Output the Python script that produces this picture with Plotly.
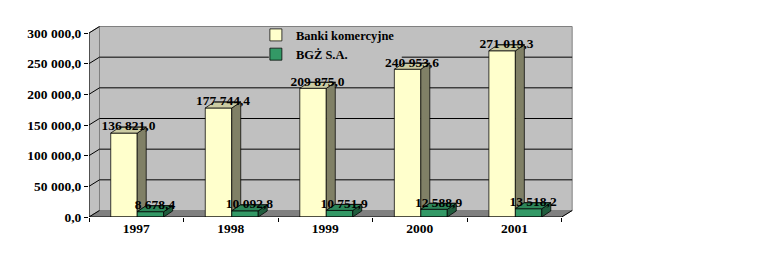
import plotly.graph_objects as go

years = ["1997", "1998", "1999", "2000", "2001"]
banki = [136821.0, 177744.4, 209875.0, 240953.6, 271019.3]
bgz = [8678.4, 10092.8, 10751.9, 12588.9, 13518.2]
yticks = [0, 50000, 100000, 150000, 200000, 250000, 300000]

# geometry (pixel-derived scale factors)
PX_X = 94.6            # px per category
PX_Y = 184 / 300000    # px per value unit
DX = 10.5 / PX_X       # wall depth (x, category units)
DY = 6.5 / PX_Y        # wall depth (y, value units)
BDX = 9 / PX_X         # bar depth
BDY = 6 / PX_Y
W = 0.28               # bar width
OFF = -0.27            # yellow bar offset from category centre

pos = list(range(len(years)))
XMIN, XMAX = -0.5, len(years) - 0.5 + DX + 0.03
YMAX = 191 / PX_Y
PLOT_W = (XMAX - XMIN) * PX_X

Y_FRONT = "#FFFFCC"; Y_TOP = "#CCCCA3"; Y_SIDE = "#808066"
G_FRONT = "#339966"; G_TOP = "#2D8659"; G_SIDE = "#1F5C3D"
WALL = "#C0C0C0"; FLOOR = "#808080"

font = dict(family="Liberation Serif", size=13.5, color="black", weight="bold")
lfont = dict(family="Liberation Serif", size=12.5, color="black", weight="bold")

fig = go.Figure()

# front faces as bars
fig.add_trace(go.Bar(x=pos, y=banki, width=W, offset=OFF, name="Banki komercyjne",
                     marker=dict(color=Y_FRONT, line=dict(color="black", width=0.75)),
                     hoverinfo="skip"))
fig.add_trace(go.Bar(x=pos, y=bgz, width=W, offset=OFF + W, name="BGŻ S.A.",
                     marker=dict(color=G_FRONT, line=dict(color="black", width=0.75)),
                     hoverinfo="skip"))

def poly_trace(xs, ys, color):
    return go.Scatter(x=xs, y=ys, mode="lines", fill="toself", fillcolor=color,
                      line=dict(color="black", width=0.75), showlegend=False,
                      hoverinfo="skip")

# yellow sides (clipped by green bar in front), yellow tops
ysx, ysy, ytx, yty = [], [], [], []
gsx, gsy, gtx, gty = [], [], [], []
for p, v, g in zip(pos, banki, bgz):
    xl = p + OFF
    xr = xl + W
    ysx += [xr, xr, xr + BDX, xr + BDX, xr, None]
    ysy += [g, v, v + BDY, g + BDY, g, None]
    ytx += [xl, xr, xr + BDX, xl + BDX, xl, None]
    yty += [v, v, v + BDY, v + BDY, v, None]
    gl = xr
    gr = xr + W
    gsx += [gr, gr, gr + BDX, gr + BDX, gr, None]
    gsy += [0, g, g + BDY, BDY, 0, None]
    gtx += [gl, gr, gr + BDX, gl + BDX, gl, None]
    gty += [g, g, g + BDY, g + BDY, g, None]

fig.add_trace(poly_trace(ysx, ysy, Y_SIDE))
fig.add_trace(poly_trace(ytx, yty, Y_TOP))
fig.add_trace(poly_trace(gsx, gsy, G_SIDE))
fig.add_trace(poly_trace(gtx, gty, G_TOP))

# data labels
lab_x = [p + OFF + W / 2 + BDX / 2 for p in pos] + [p + OFF + 1.5 * W + BDX / 2 for p in pos]
lab_y = [v + BDY for v in banki] + [v + BDY for v in bgz]
fig.add_trace(go.Scatter(x=lab_x, y=lab_y, mode="text", customdata=banki + bgz,
                         texttemplate="%{customdata:,.1f}", textposition="middle center",
                         textfont=font, showlegend=False, hoverinfo="skip"))

# back edges of top faces drawn over the labels (as in the original)
ex, ey = [], []
for p, v, g in zip(pos, banki, bgz):
    xl = p + OFF
    ex += [xl + BDX, xl + W + BDX, None, xl + W + BDX, xl + 2 * W + BDX, None]
    ey += [v + BDY, v + BDY, None, g + BDY, g + BDY, None]
fig.add_trace(go.Scatter(x=ex, y=ey, mode="lines", line=dict(color="black", width=0.75),
                         showlegend=False, hoverinfo="skip"))

# walls, floor, gridlines
X0, X1 = -0.5, len(years) - 0.5
# legend area (in category units) where the gridline is hidden
LEG_X0 = X0 + (269 - 89) / PX_X
LEG_X1 = X0 + (402 - 89) / PX_X
shapes = []
shapes.append(dict(type="rect", x0=X0 + DX, x1=X1 + DX, y0=DY, y1=yticks[-1] + DY,
                   fillcolor=WALL, line=dict(color=FLOOR, width=1), layer="below"))
shapes.append(dict(type="path",
                   path=f"M{X0},0 L{X0},{yticks[-1]} L{X0+DX},{yticks[-1]+DY} L{X0+DX},{DY} Z",
                   fillcolor=WALL, line=dict(color=FLOOR, width=1), layer="below"))
shapes.append(dict(type="path",
                   path=f"M{X0},0 L{X1},0 L{X1+DX},{DY} L{X0+DX},{DY} Z",
                   fillcolor=FLOOR, line=dict(color=FLOOR, width=1), layer="below"))
for v in yticks[1:-1]:
    if v == 250000:
        segs = [(X0 + DX, LEG_X0), (LEG_X1, X1 + DX)]
    else:
        segs = [(X0 + DX, X1 + DX)]
    for a, b in segs:
        shapes.append(dict(type="line", x0=a, x1=b, y0=v + DY, y1=v + DY,
                           line=dict(color="black", width=1), layer="below"))
for v in yticks:
    shapes.append(dict(type="line", x0=X0, x1=X0 + DX, y0=v, y1=v + DY,
                       line=dict(color="black", width=1), layer="below"))
# front axis lines
shapes.append(dict(type="line", x0=X0, x1=X0, y0=0, y1=yticks[-1],
                   line=dict(color="black", width=1), layer="above"))
shapes.append(dict(type="line", x0=X0, x1=X1, y0=0, y1=0,
                   line=dict(color="black", width=1), layer="above"))
shapes.append(dict(type="line", x0=X1, x1=X1 + DX, y0=0, y1=DY,
                   line=dict(color="black", width=1), layer="above"))

fig.update_layout(
    width=764, height=253,
    margin=dict(l=89, r=764 - 89 - int(round(PLOT_W)), t=26, b=36),
    paper_bgcolor="white", plot_bgcolor="rgba(0,0,0,0)",
    barmode="overlay",
    separators=", ",
    shapes=shapes,
    font=font,
    showlegend=True,
    legend=dict(x=(256 - 89) / PLOT_W, y=1.03, xanchor="left", yanchor="top",
                bgcolor="rgba(0,0,0,0)", borderwidth=0, font=lfont, traceorder="normal"),
    xaxis=dict(range=[XMIN, XMAX], tickmode="array", tickvals=pos, ticktext=years,
               ticks="", showgrid=False, zeroline=False, showline=False,
               tickfont=font, fixedrange=True, ticklabelstandoff=1,
               minor=dict(tickmode="array", tickvals=[X0 + k for k in range(len(years) + 1)],
                          ticks="outside", ticklen=4, tickcolor="black", tickwidth=1,
                          showgrid=False)),
    yaxis=dict(range=[0, YMAX], tickmode="array", tickvals=yticks, tickformat=",.1f",
               ticks="outside", ticklen=4, tickcolor="black", showgrid=False,
               zeroline=False, showline=False, tickfont=font, fixedrange=True),
)

fig.write_html("out.html")
